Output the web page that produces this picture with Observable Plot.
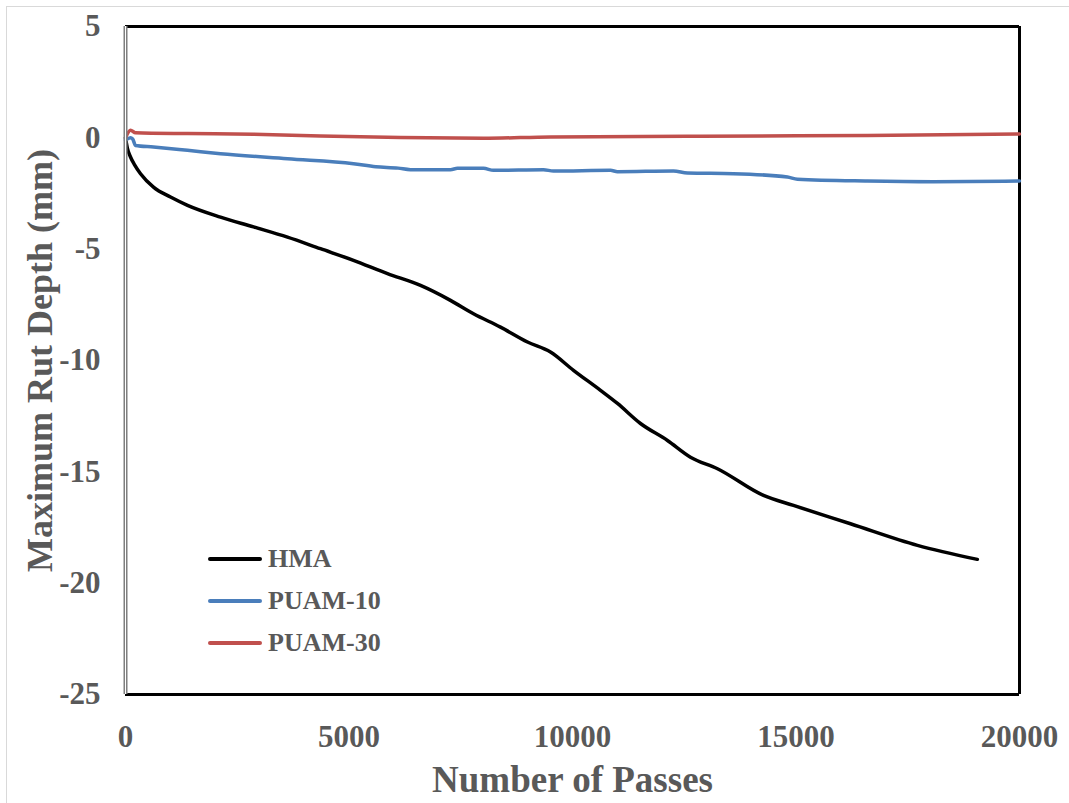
<!DOCTYPE html>
<html>
<head>
<meta charset="utf-8">
<script src="https://cdn.jsdelivr.net/npm/d3@7"></script>
<script src="https://cdn.jsdelivr.net/npm/@observablehq/plot@0.6"></script>
<style>
  html, body { margin: 0; padding: 0; background: #fff; }
  #wrap { position: relative; width: 1069px; height: 803px; overflow: hidden; }
  #border { position: absolute; left: 6px; top: 6px; width: 1080px; height: 820px; border: 1.5px solid #d9d9d9; box-sizing: border-box; pointer-events: none; }
  #legend { position: absolute; left: 208px; top: 538px; font-family: "Liberation Serif", "Times New Roman", serif; font-weight: bold; font-size: 26px; color: #595959; }
  .item { display: flex; align-items: center; height: 42px; }
  .swatch { width: 54px; height: 4px; border-radius: 2px; margin-right: 6px; }
  svg text { font-family: "Liberation Serif", "Times New Roman", serif; font-weight: bold; fill: #595959; }
</style>
</head>
<body>
<div id="wrap">
  <div id="chart"></div>
  <div id="border"></div>
  <div id="legend"></div>
</div>
<script>
const seriesNames = ["HMA", "PUAM-10", "PUAM-30"];
const seriesColors = ["#000000", "#4a7ebb", "#c0504d"];

const hmaPasses = [0, 40, 112, 200, 336, 626, 1007, 1387, 2125, 2864, 3624, 4362, 5100, 5861, 6600, 7270, 7785, 8389, 8993, 9507, 10022, 10626, 11006, 11521, 12124, 12639, 13243, 14273, 14944, 16219, 17717, 19057];
const hmaDepth  = [0, -0.45, -0.86, -1.2, -1.61, -2.21, -2.66, -3.03, -3.56, -4.0, -4.46, -4.98, -5.5, -6.1, -6.63, -7.3, -7.9, -8.5, -9.17, -9.62, -10.44, -11.34, -11.93, -12.83, -13.59, -14.34, -14.86, -16.06, -16.51, -17.33, -18.3, -18.93];

const puam10Passes = [0, 112, 160, 224, 626, 1387, 2125, 3624, 5100, 5600, 6100, 6376, 7270, 7427, 8009, 8232, 9351, 9574, 10849, 11006, 12258, 12571, 13601, 14809, 15033, 16599, 18075, 20000];
const puam10Depth  = [-0.1, 0, -0.05, -0.34, -0.41, -0.56, -0.71, -0.94, -1.16, -1.3, -1.36, -1.43, -1.43, -1.37, -1.37, -1.46, -1.43, -1.49, -1.46, -1.52, -1.49, -1.58, -1.61, -1.76, -1.86, -1.94, -1.97, -1.94];

const puam30Passes = [0, 112, 224, 1387, 2864, 4362, 6152, 8009, 9507, 12862, 16599, 20000];
const puam30Depth  = [0, 0.34, 0.23, 0.19, 0.16, 0.08, 0.01, -0.02, 0.04, 0.07, 0.11, 0.17];

const xTicks = [0, 5000, 10000, 15000, 20000];
const yTicks = [5, 0, -5, -10, -15, -20, -25];

const xTitle = "Number of Passes";
const yTitle = "Maximum Rut Depth (mm)";

function toRows(name, xs, ys) { return xs.map((x, i) => ({series: name, passes: x, depth: ys[i]})); }
const data = [
  ...toRows("HMA", hmaPasses, hmaDepth),
  ...toRows("PUAM-10", puam10Passes, puam10Depth),
  ...toRows("PUAM-30", puam30Passes, puam30Depth)
];

const chart = Plot.plot({
  width: 1069,
  height: 803,
  marginLeft: 125,
  marginRight: 50,
  marginTop: 26,
  marginBottom: 109,
  x: {domain: [0, 20000]},
  y: {domain: [-25, 5]},
  color: {domain: seriesNames, range: seriesColors},
  marks: [
    Plot.axisX(xTicks, {tickSize: 0, tickPadding: 30, fontSize: 31, tickFormat: d => String(d), label: null}),
    Plot.axisY(yTicks, {tickSize: 0, tickPadding: 25, fontSize: 31, tickFormat: d => String(d), label: null}),
    Plot.ruleY([5], {stroke: "#000", strokeWidth: 3}),
    Plot.ruleY([-25], {stroke: "#000", strokeWidth: 3}),
    Plot.ruleX([20000], {stroke: "#000", strokeWidth: 3}),
    Plot.line(data, {x: "passes", y: "depth", z: "series", stroke: "series", strokeWidth: 3.5, curve: "monotone-x"}),
    Plot.ruleX([0], {stroke: "#7f7f7f", strokeWidth: 4}),
    Plot.ruleX([0], {stroke: "#ffffff", strokeWidth: 1}),
    Plot.text([xTitle], {frameAnchor: "bottom", dy: 86, fontSize: 37, lineAnchor: "middle", textAnchor: "middle", text: d => d}),
    Plot.text([yTitle], {frameAnchor: "left", dx: -85, rotate: -90, fontSize: 36, lineAnchor: "middle", textAnchor: "middle", text: d => d})
  ]
});
document.getElementById("chart").appendChild(chart);

const legend = document.getElementById("legend");
seriesNames.forEach((name, i) => {
  const item = document.createElement("div");
  item.className = "item";
  const sw = document.createElement("div");
  sw.className = "swatch";
  sw.style.background = seriesColors[i];
  const lab = document.createElement("span");
  lab.textContent = name;
  item.appendChild(sw);
  item.appendChild(lab);
  legend.appendChild(item);
});
</script>
</body>
</html>
